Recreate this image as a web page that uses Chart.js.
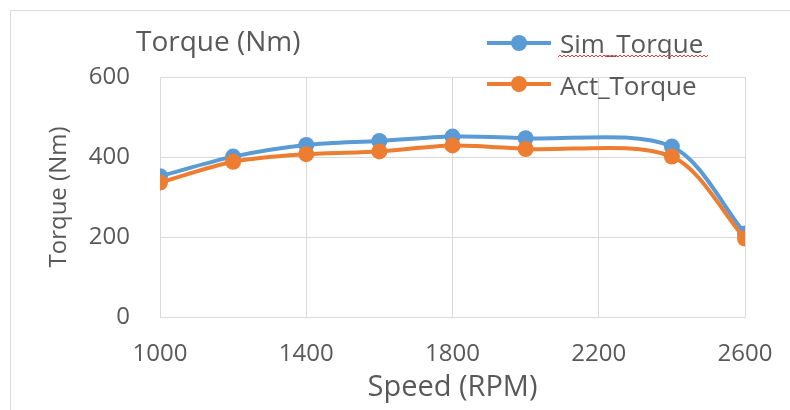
<!DOCTYPE html>
<html>
<head>
<meta charset="utf-8">
<script src="https://cdn.jsdelivr.net/npm/chart.js@4.4.1/dist/chart.umd.min.js"></script>
<style>
    body { margin: 0; background: #fff; }
    #wrap { width: 790px; height: 410px; }
</style>
</head>
<body>
<div id="wrap"><canvas id="torqueChart" width="790" height="410"></canvas></div>
<script>
// values
const speeds = [1000, 1200, 1400, 1600, 1800, 2000, 2400, 2600];
const simTorque = [352, 401, 430, 440, 451, 447, 426, 209];
const actTorque = [336, 388, 407, 414, 429, 420, 401, 196];
const seriesNames = ["Sim_Torque", "Act_Torque"];
const chartTitle = "Torque (Nm)";

const textColor = "#595959";
const gridColor = "#d9d9d9";
const fontName = "'Open Sans', sans-serif";

function toPoints(ys) {
    return speeds.map((x, i) => ({ x: x, y: ys[i] }));
}

// title, legend and frame drawn by hand (legend sits over the plot)
const decorPlugin = {
    id: "decor",
    beforeDraw(chart) {
        const ctx = chart.ctx;
        ctx.save();
        ctx.strokeStyle = gridColor;
        ctx.lineWidth = 1;
        ctx.beginPath();
        ctx.moveTo(10.5, 410);
        ctx.lineTo(10.5, 10.5);
        ctx.lineTo(790, 10.5);
        ctx.stroke();
        ctx.restore();
    },
    afterDraw(chart) {
        const ctx = chart.ctx;
        ctx.save();
        ctx.fillStyle = textColor;
        ctx.font = "28px " + fontName;
        ctx.textBaseline = "alphabetic";
        ctx.fillText(chartTitle, 136, 51);

        const rows = [{ y: 43, base: 53 }, { y: 84, base: 95 }];
        chart.data.datasets.forEach((ds, i) => {
            const r = rows[i];
            ctx.strokeStyle = ds.borderColor;
            ctx.lineWidth = 4;
            ctx.beginPath();
            ctx.moveTo(487, r.y);
            ctx.lineTo(551, r.y);
            ctx.stroke();
            ctx.fillStyle = ds.backgroundColor;
            ctx.beginPath();
            ctx.arc(519, r.y, 8, 0, Math.PI * 2);
            ctx.fill();
            ctx.fillStyle = textColor;
            ctx.font = "26px " + fontName;
            ctx.fillText(ds.label, 560, r.base);
        });

        // spell-check squiggle under the first legend entry
        ctx.strokeStyle = "#e04040";
        ctx.lineWidth = 1;
        ctx.beginPath();
        for (let x = 558; x <= 708; x += 2) {
            const y = 56 + ((x / 2) % 2 === 0 ? -1 : 1);
            if (x === 558) ctx.moveTo(x, y); else ctx.lineTo(x, y);
        }
        ctx.stroke();
        ctx.restore();
    }
};

new Chart(document.getElementById("torqueChart"), {
    type: "line",
    data: {
        datasets: [
            {
                label: seriesNames[0],
                data: toPoints(simTorque),
                borderColor: "#5b9bd5",
                backgroundColor: "#5b9bd5",
                borderWidth: 4,
                pointRadius: 8,
                pointBorderWidth: 0,
                tension: 0.3,
                order: 1
            },
            {
                label: seriesNames[1],
                data: toPoints(actTorque),
                borderColor: "#ed7d31",
                backgroundColor: "#ed7d31",
                borderWidth: 4,
                pointRadius: 8,
                pointBorderWidth: 0,
                tension: 0.3,
                order: 0
            }
        ]
    },
    options: {
        responsive: false,
        animation: false,
        layout: { padding: { top: 77, right: 45, bottom: 0, left: 0 } },
        plugins: {
            legend: { display: false },
            title: { display: false },
            tooltip: { enabled: false }
        },
        scales: {
            x: {
                type: "linear",
                min: 1000,
                max: 2600,
                ticks: {
                    stepSize: 400,
                    padding: 23,
                    color: textColor,
                    font: { family: fontName, size: 24 },
                    callback: v => String(v)
                },
                grid: { color: gridColor, drawTicks: false },
                border: { color: gridColor },
                title: {
                    display: true,
                    text: "Speed (RPM)",
                    color: textColor,
                    font: { family: fontName, size: 29 },
                    padding: { top: 0, bottom: 5 }
                },
                afterFit(scale) {
                    scale.height = 93;
                    scale.paddingLeft = 0;
                    scale.paddingRight = 0;
                }
            },
            y: {
                min: 0,
                max: 600,
                ticks: {
                    stepSize: 200,
                    padding: 30,
                    color: textColor,
                    font: { family: fontName, size: 24 }
                },
                grid: { color: gridColor, drawTicks: false },
                border: { color: gridColor },
                title: {
                    display: true,
                    text: "Torque (Nm)",
                    color: textColor,
                    font: { family: fontName, size: 24 },
                    padding: { top: 45, bottom: 0 }
                },
                afterFit(scale) { scale.width = 160; }
            }
        }
    },
    plugins: [decorPlugin]
});
</script>
</body>
</html>
